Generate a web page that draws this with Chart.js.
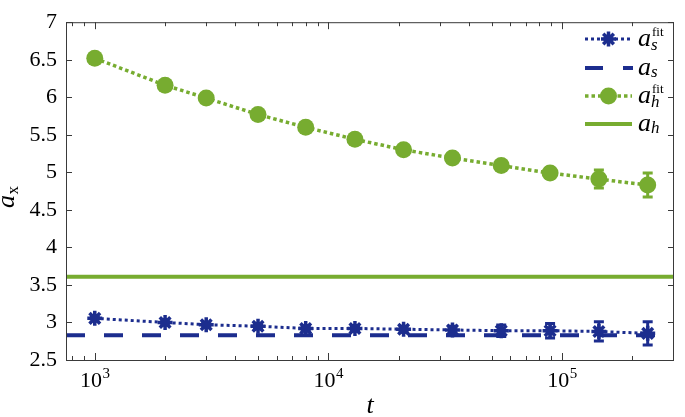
<!DOCTYPE html>
<html><head><meta charset="utf-8">
<script src="https://cdn.jsdelivr.net/npm/chart.js@4/dist/chart.umd.min.js"></script>
<style>html,body{margin:0;padding:0;background:#fff;}#wrap{width:685px;height:417px;position:relative;}
.pre{font-family:"Liberation Serif";position:absolute;left:-999px;top:-999px;}</style>
</head><body><div id="wrap"><canvas id="c" width="685" height="417"></canvas></div>
<span class="pre">0123 <i>at</i></span>
<script>
// ---- data ----
const tValues  = [1000, 2000, 3000, 5000, 8000, 13000, 21000, 34000, 55000, 89000, 144000, 233000];
const asFit    = [3.055, 3.00, 2.97, 2.95, 2.92, 2.92, 2.91, 2.90, 2.89, 2.89, 2.88, 2.855];
const asFitErr = [0.01, 0.01, 0.015, 0.02, 0.025, 0.03, 0.04, 0.05, 0.077, 0.096, 0.128, 0.155];
const ahFit    = [6.52, 6.16, 5.99, 5.77, 5.60, 5.44, 5.30, 5.19, 5.09, 4.99, 4.91, 4.83];
const ahFitErr = [0.01, 0.015, 0.02, 0.02, 0.025, 0.03, 0.035, 0.04, 0.05, 0.07, 0.12, 0.16];
const asConst  = 2.83;
const ahConst  = 3.61;
const tRange   = [753, 302000];
const yRange   = [2.5, 7];
const yStep    = 0.5;
const xMajorTicks = [1000, 10000, 100000];
const xMajorExp   = ['3', '4', '5'];
const legendLabels = [
  {base: 'a', sup: 'fit', sub: 's'},
  {base: 'a', sup: '',    sub: 's'},
  {base: 'a', sup: 'fit', sub: 'h'},
  {base: 'a', sup: '',    sub: 'h'}
];

const BLUE = '#1c2d8e';
const GREEN = '#77ac30';
const AXIS = '#3a3a3a';
const SERIF = '"Liberation Serif", "DejaVu Serif", serif';

function pts(xs, ys){ return xs.map((x,i)=>({x:x, y:ys[i]})); }

const errPlugin = {
  id: 'errbars',
  beforeDatasetsDraw(chart){
    const {ctx, scales:{x, y}} = chart;
    const draw = (vals, errs, color) => {
      ctx.save();
      ctx.strokeStyle = color; ctx.lineWidth = 3;
      vals.forEach((v,i)=>{
        const px = x.getPixelForValue(tValues[i]);
        const y1 = y.getPixelForValue(v + errs[i]);
        const y2 = y.getPixelForValue(v - errs[i]);
        ctx.beginPath();
        ctx.moveTo(px, y1); ctx.lineTo(px, y2);
        ctx.moveTo(px-5, y1); ctx.lineTo(px+5, y1);
        ctx.moveTo(px-5, y2); ctx.lineTo(px+5, y2);
        ctx.stroke();
      });
      ctx.restore();
    };
    draw(asFit, asFitErr, BLUE);
    draw(ahFit, ahFitErr, GREEN);
  }
};

function drawAsterisk(ctx, x, y, r){
  ctx.save();
  ctx.strokeStyle = BLUE; ctx.lineWidth = 3.5; ctx.lineCap = 'butt';
  ctx.beginPath();
  for (let k=0;k<4;k++){
    const a = k*Math.PI/4;
    ctx.moveTo(x - r*Math.cos(a), y - r*Math.sin(a));
    ctx.lineTo(x + r*Math.cos(a), y + r*Math.sin(a));
  }
  ctx.stroke();
  ctx.restore();
}

const framePlugin = {
  id: 'frame',
  afterDraw(chart){
    const {ctx, chartArea:a, scales:{x, y}} = chart;
    ctx.save();
    ctx.strokeStyle = AXIS; ctx.lineWidth = 1;
    ctx.strokeRect(a.left+0.5, a.top+0.5, a.right-a.left-1, a.bottom-a.top);
    ctx.beginPath();
    for (let v=yRange[0]; v<=yRange[1]+1e-9; v+=yStep){
      const py = Math.round(y.getPixelForValue(v)) + 0.5;
      ctx.moveTo(a.left, py); ctx.lineTo(a.left+6, py);
      ctx.moveTo(a.right, py); ctx.lineTo(a.right-6, py);
    }
    for (let d=2; d<=5; d++){
      for (let m=1; m<=9; m++){
        const v = m*Math.pow(10,d);
        if (v < tRange[0] || v > tRange[1]) continue;
        const px = Math.round(x.getPixelForValue(v)) + 0.5;
        const len = (m===1) ? 7 : 4;
        ctx.moveTo(px, a.bottom); ctx.lineTo(px, a.bottom-len);
        ctx.moveTo(px, a.top); ctx.lineTo(px, a.top+len);
      }
    }
    ctx.stroke();
    ctx.fillStyle = '#000';
    ctx.textBaseline = 'alphabetic'; ctx.textAlign = 'left';
    xMajorTicks.forEach((v,i)=>{
      const px = x.getPixelForValue(v);
      ctx.font = '22px ' + SERIF;
      const w1 = ctx.measureText('10').width;
      ctx.font = '15px ' + SERIF;
      const w2 = ctx.measureText(xMajorExp[i]).width;
      const x0 = px - (w1+w2)/2;
      ctx.font = '22px ' + SERIF;
      ctx.fillText('10', x0, 387);
      ctx.font = '15px ' + SERIF;
      ctx.fillText(xMajorExp[i], x0 + w1 + 0.5, 378);
    });
    ctx.font = 'italic 26px ' + SERIF;
    ctx.textAlign = 'center';
    ctx.fillText('t', (a.left + a.right)/2, 413);
    ctx.save();
    ctx.translate(14, 208);
    ctx.rotate(-Math.PI/2);
    ctx.textAlign = 'left';
    ctx.font = 'italic 26px ' + SERIF;
    ctx.fillText('a', 0, 0);
    const wa = ctx.measureText('a').width;
    ctx.font = '17px ' + SERIF;
    ctx.fillText('x', wa + 0.5, 4);
    ctx.restore();

    const rows = [39, 68, 96, 124];
    const lx0 = 585, lx1 = 632, mx = 608.5, tx = 638;
    ctx.lineCap = 'butt';
    ctx.strokeStyle = BLUE; ctx.lineWidth = 3; ctx.setLineDash([3,3]);
    ctx.beginPath(); ctx.moveTo(lx0, rows[0]); ctx.lineTo(lx1, rows[0]); ctx.stroke();
    ctx.setLineDash([]);
    drawAsterisk(ctx, mx, rows[0], 7.5);
    ctx.strokeStyle = BLUE; ctx.lineWidth = 4; ctx.setLineDash([18,20]);
    ctx.beginPath(); ctx.moveTo(lx0, rows[1]); ctx.lineTo(lx1+1, rows[1]); ctx.stroke();
    ctx.setLineDash([]);
    ctx.strokeStyle = GREEN; ctx.lineWidth = 3.5; ctx.setLineDash([3.5,3]);
    ctx.beginPath(); ctx.moveTo(lx0, rows[2]); ctx.lineTo(lx1, rows[2]); ctx.stroke();
    ctx.setLineDash([]);
    ctx.fillStyle = GREEN;
    ctx.beginPath(); ctx.arc(mx, rows[2], 8.5, 0, Math.PI*2); ctx.fill();
    ctx.strokeStyle = GREEN; ctx.lineWidth = 4;
    ctx.beginPath(); ctx.moveTo(lx0, rows[3]); ctx.lineTo(lx1, rows[3]); ctx.stroke();
    ctx.fillStyle = '#000'; ctx.textAlign = 'left';
    legendLabels.forEach((L, i)=>{
      const yy = rows[i];
      ctx.font = 'italic 26px ' + SERIF;
      ctx.fillText(L.base, tx, yy + 7);
      const w = ctx.measureText(L.base).width;
      if (L.sup){
        ctx.font = '13px ' + SERIF;
        ctx.fillText(L.sup, tx + w + 1, yy - 3);
      }
      ctx.font = 'italic 17px ' + SERIF;
      ctx.fillText(L.sub, tx + w, yy + (L.sup ? 11 : 9));
    });
    ctx.restore();
  }
};

function build(){
  new Chart(document.getElementById('c'), {
    type: 'line',
    data: {
      datasets: [
        { label: 'a_s^fit', data: pts(tValues, asFit), borderColor: BLUE, backgroundColor: BLUE,
          borderWidth: 3, borderDash: [3,3], pointStyle: 'star', pointRadius: 7.5,
          pointBorderWidth: 3.5, pointBorderColor: BLUE, pointBackgroundColor: BLUE, order: 1 },
        { label: 'a_s', data: [{x:tRange[0], y:asConst},{x:tRange[1], y:asConst}], borderColor: BLUE,
          borderWidth: 4, borderDash: [19,19], pointRadius: 0, order: 3 },
        { label: 'a_h^fit', data: pts(tValues, ahFit), borderColor: GREEN, backgroundColor: GREEN,
          borderWidth: 3.5, borderDash: [3.5,3], pointStyle: 'circle', pointRadius: 8.5,
          pointBorderWidth: 0, pointBackgroundColor: GREEN, order: 2 },
        { label: 'a_h', data: [{x:tRange[0], y:ahConst},{x:tRange[1], y:ahConst}], borderColor: GREEN,
          borderWidth: 4, pointRadius: 0, order: 4 }
      ]
    },
    options: {
      responsive: false, animation: false, devicePixelRatio: 1,
      layout: { padding: { top: 9, right: 2, left: 0, bottom: 0 } },
      plugins: { legend: { display: false }, tooltip: { enabled: false } },
      elements: { line: { tension: 0, borderCapStyle: 'butt' } },
      scales: {
        x: { type: 'logarithmic', min: tRange[0], max: tRange[1],
             grid: { display: false, drawTicks: false }, border: { display: false },
             ticks: { display: false },
             afterFit(s){ s.height = 57; } },
        y: { type: 'linear', min: yRange[0], max: yRange[1],
             grid: { display: false, drawTicks: false }, border: { display: false },
             ticks: { stepSize: yStep, padding: 9, color: '#000',
                      font: { family: SERIF, size: 22 },
                      callback: v => String(Math.round(v*10)/10) },
             afterFit(s){ s.width = 66; } }
      }
    },
    plugins: [errPlugin, framePlugin]
  });
}

const loads = ['22px "Liberation Serif"', 'italic 26px "Liberation Serif"', '15px "Liberation Serif"']
  .map(f => document.fonts.load(f).catch(()=>null));
Promise.race([Promise.all(loads), new Promise(r=>setTimeout(r, 1500))]).then(build);
</script>
</body></html>
